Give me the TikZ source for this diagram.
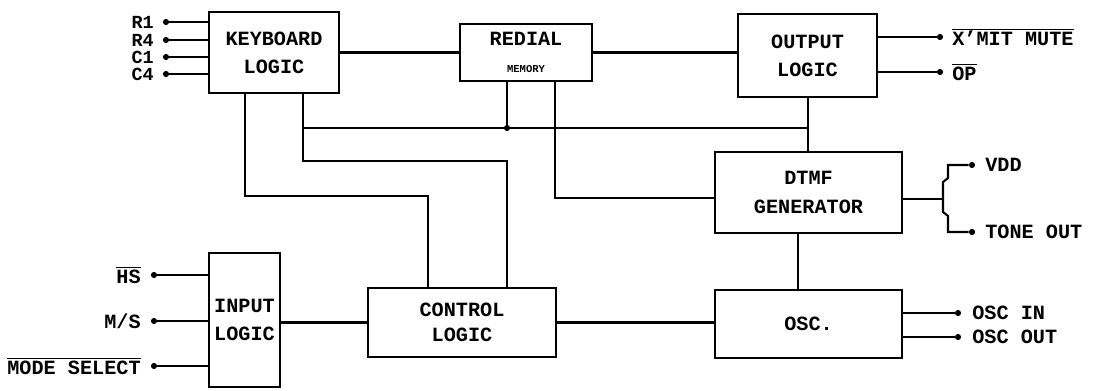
\documentclass[tikz,border=0pt]{standalone}
\usepackage{fontspec}
\setmainfont{Liberation Mono}
\begin{document}
\begin{tikzpicture}[x=0.02cm,y=-0.02cm,
  blk/.style={draw, line width=1.3pt, inner sep=0pt, align=center,
    font=\bfseries\fontsize{11.5}{13}\selectfont},
  wire/.style={line width=1.2pt},
  pin/.style={circle, fill, inner sep=0pt, minimum size=3.5pt},
  lbl/.style={inner sep=0pt, font=\bfseries\fontsize{11.5}{13}\selectfont},
  slbl/.style={inner sep=0pt, font=\bfseries\fontsize{10.5}{12}\selectfont}]
\useasboundingbox (0,0) rectangle (1098,391);
% blocks
\node[blk, minimum width=2.6cm, minimum height=1.62cm] (kb) at (274,52.5) {KEYBOARD\\[3pt]LOGIC};
\node[blk, minimum width=2.64cm, minimum height=1.14cm] (rd) at (526,52.5) {REDIAL\\[2pt]{\fontsize{6}{7}\selectfont MEMORY}};
\node[blk, minimum width=2.78cm, minimum height=1.66cm] (out) at (807.5,55.5) {OUTPUT\\[3pt]LOGIC};
\node[blk, minimum width=3.74cm, minimum height=1.62cm] (dtmf) at (808.5,192.5) {DTMF\\[3pt]GENERATOR};
\node[blk, minimum width=3.76cm, minimum height=1.38cm] (ctl) at (462,322.5) {CONTROL\\[1pt]LOGIC};
\node[blk, minimum width=1.42cm, minimum height=2.68cm] (inl) at (244.5,320) {INPUT\\[3pt]LOGIC};
\node[blk, minimum width=3.74cm, minimum height=1.36cm] (osc) at (808.5,324) {OSC.};
% keyboard pins
\foreach \n/\yy/\t in {r1/22/R1, r4/40/R4, c1/57/C1, c4/74/C4}{
  \node[pin] (p\n) at (166,\yy) {};
  \node[slbl, anchor=east] (l\n) at (154,\yy) {\t};
  \draw[wire] (p\n) -- (kb.west |- p\n);
}
% input pins
\node[pin] (phs) at (154,275) {};
\node[lbl, anchor=east] (lhs) at (141,275) {$\overline{\hbox{\bfseries HS}}$};
\node[pin] (pms) at (154,321) {};
\node[lbl, anchor=east] (lms) at (141,321) {M/S};
\node[pin] (pmode) at (154,366) {};
\node[lbl, anchor=east] (lmode) at (141,366) {$\overline{\hbox{\bfseries MODE SELECT}}$};
\foreach \p in {phs,pms,pmode}{ \draw[wire] (\p) -- (inl.west |- \p); }
% output pins
\node[pin] (pmute) at (940,37) {};
\node[lbl, anchor=west] (lmute) at (952,37) {$\overline{\hbox{\bfseries X\char39 MIT MUTE}}$};
\node[pin] (pop) at (940,72) {};
\node[lbl, anchor=west] (lop) at (952,72) {$\overline{\hbox{\bfseries OP}}$};
\draw[wire] (out.east |- pmute) -- (pmute);
\draw[wire] (out.east |- pop) -- (pop);
% osc pins
\node[pin] (pin) at (958,313) {};
\node[lbl, anchor=west] (lin) at (972,313) {OSC IN};
\node[pin] (pout) at (958,337) {};
\node[lbl, anchor=west] (lout) at (972,337) {OSC OUT};
\draw[wire] (osc.east |- pin) -- (pin);
\draw[wire] (osc.east |- pout) -- (pout);
% dtmf outputs with brace
\node[pin] (pvdd) at (972,165) {};
\node[lbl, anchor=west] (lvdd) at (985,165) {VDD};
\node[pin] (ptone) at (972,232) {};
\node[lbl, anchor=west] (ltone) at (985,232) {TONE OUT};
\coordinate (bj) at (943,199);
\draw[wire] (dtmf.east |- bj) -- (bj);
\draw[wire] (pvdd) -- (948,165) -- (948,178) -- (943,182) -- (943,212) -- (948,216) -- (948,232) -- (ptone);
% main connections
\draw[wire] (kb.east) -- (rd.west);
\draw[wire] (rd.east) -- (rd.east -| out.west);
\coordinate (j1) at (245,196); \coordinate (j2) at (428,196);
\draw[wire] (kb.south -| j1) -- (j1) -- (j2) -- (ctl.north -| j2);
\coordinate (j3) at (303,161); \coordinate (j4) at (507,161);
\draw[wire] (kb.south -| j3) -- (j3) -- (j4) -- (ctl.north -| j4);
\coordinate (b1) at (303,128); \coordinate (b2) at (507,128); \coordinate (b3) at (808,128);
\draw[wire] (b1) -- (b3);
\draw[wire] (out.south -| b3) -- (dtmf.north -| b3);
\draw[wire] (rd.south -| b2) -- (b2);
\node[pin] (db2) at (b2) {};
\coordinate (j5) at (555,198);
\draw[wire] (rd.south -| j5) -- (j5) -- (dtmf.west |- j5);
\coordinate (j6) at (798,260);
\draw[wire] (dtmf.south -| j6) -- (osc.north -| j6);
\draw[wire] (inl.east |- ctl.west) -- (ctl.west);
\draw[wire] (ctl.east) -- (osc.west |- ctl.east);
\end{tikzpicture}
\end{document}
